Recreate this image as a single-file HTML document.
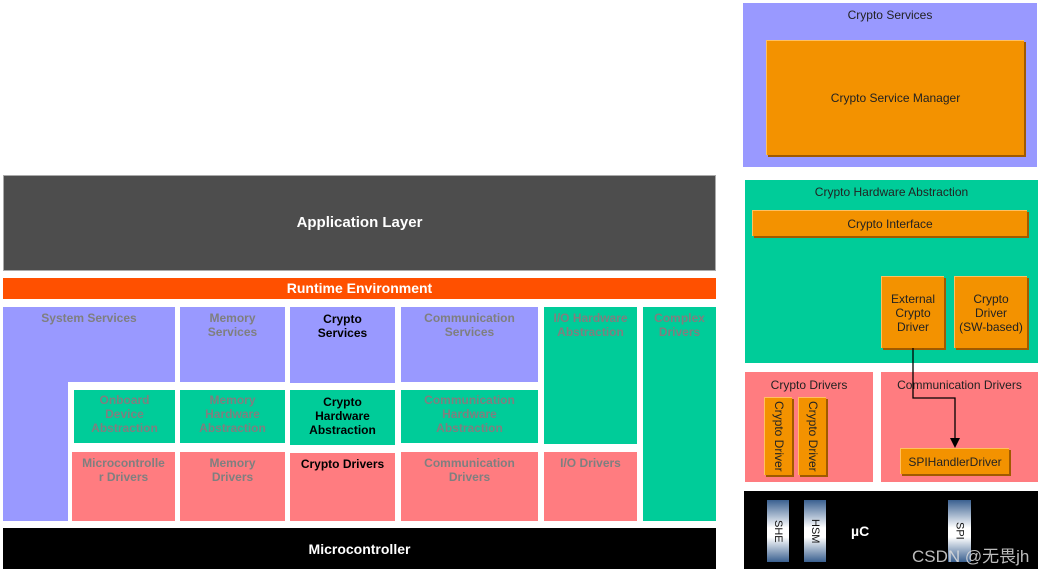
<!DOCTYPE html>
<html><head><meta charset="utf-8"><style>
body{margin:0;width:1042px;height:572px;background:#fff;position:relative;overflow:hidden;font-family:"Liberation Sans","Noto Sans CJK SC",sans-serif}
.b{position:absolute;box-sizing:border-box;text-align:center;font-weight:bold;font-size:12px;line-height:14px;color:#7f7f7f;padding-top:4px}
.p{background:#9999ff}.g{background:#00cc99}.r{background:#ff7c80}
.o{position:absolute;box-sizing:border-box;background:#f39200;border-top:1px solid #ffc060;border-left:1px solid #ffc060;box-shadow:2px 2px 0 #a05a00;font-size:12px;line-height:14px;color:#222;text-align:center;display:flex;align-items:center;justify-content:center}
.t{position:absolute;font-size:12px;color:#222;text-align:center}
.v{position:absolute;box-sizing:border-box;background:linear-gradient(#3a6090,#fff 45%,#fff 60%,#3a6090);color:#111;font-size:11px;display:flex;align-items:center;justify-content:center}
.v span{writing-mode:vertical-rl}
</style></head><body>
<div class="b" style="left:3px;top:175px;width:713px;height:96px;background:#4d4d4d;color:#fff;font-size:15px;padding-top:40px;border:1px solid #aaa">Application Layer</div>
<div class="b" style="left:3px;top:278px;width:713px;height:21px;background:#ff5000;color:#fff;font-size:14px;padding-top:3px">Runtime Environment</div>
<div class="b p" style="left:3px;top:307px;width:172px;height:75px">System Services</div>
<div class="p" style="position:absolute;left:3px;top:380px;width:65px;height:141px"></div>
<div class="b p" style="left:180px;top:307px;width:105px;height:75px">Memory<br>Services</div>
<div class="b p" style="left:290px;top:307px;width:105px;height:76px;color:#000;padding-top:5px">Crypto<br>Services</div>
<div class="b p" style="left:401px;top:307px;width:137px;height:75px">Communication<br>Services</div>
<div class="b g" style="left:544px;top:307px;width:93px;height:137px">I/O Hardware<br>Abstraction</div>
<div class="b g" style="left:643px;top:307px;width:73px;height:214px">Complex<br>Drivers</div>
<div class="b g" style="left:74px;top:390px;width:101px;height:53px;padding-top:3px">Onboard<br>Device<br>Abstraction</div>
<div class="b g" style="left:180px;top:390px;width:105px;height:53px;padding-top:3px">Memory<br>Hardware<br>Abstraction</div>
<div class="b g" style="left:290px;top:390px;width:105px;height:55px;color:#000;padding-top:5px">Crypto<br>Hardware<br>Abstraction</div>
<div class="b g" style="left:401px;top:390px;width:137px;height:53px;padding-top:3px">Communication<br>Hardware<br>Abstraction</div>
<div class="b r" style="left:72px;top:452px;width:103px;height:69px">Microcontrolle<br>r Drivers</div>
<div class="b r" style="left:180px;top:452px;width:105px;height:69px">Memory<br>Drivers</div>
<div class="b r" style="left:290px;top:453px;width:105px;height:68px;color:#000;padding-top:4px">Crypto Drivers</div>
<div class="b r" style="left:401px;top:452px;width:137px;height:69px">Communication<br>Drivers</div>
<div class="b r" style="left:544px;top:452px;width:93px;height:69px">I/O Drivers</div>
<div class="b" style="left:3px;top:528px;width:713px;height:41px;background:#000;color:#fff;font-size:14px;padding-top:14px">Microcontroller</div>

<div class="p" style="position:absolute;left:743px;top:3px;width:294px;height:164px"></div>
<div class="t" style="left:743px;top:8px;width:294px">Crypto Services</div>
<div class="o" style="left:766px;top:40px;width:258px;height:115px">Crypto Service Manager</div>

<div class="g" style="position:absolute;left:745px;top:180px;width:293px;height:183px"></div>
<div class="t" style="left:745px;top:185px;width:293px">Crypto Hardware Abstraction</div>
<div class="o" style="left:752px;top:210px;width:275px;height:26px">Crypto Interface</div>
<div class="o" style="left:881px;top:276px;width:63px;height:72px">External<br>Crypto<br>Driver</div>
<div class="o" style="left:954px;top:276px;width:73px;height:72px">Crypto<br>Driver<br>(SW-based)</div>

<div class="r" style="position:absolute;left:745px;top:372px;width:128px;height:110px"></div>
<div class="t" style="left:745px;top:378px;width:128px">Crypto Drivers</div>
<div class="r" style="position:absolute;left:881px;top:372px;width:157px;height:110px"></div>
<div class="t" style="left:881px;top:378px;width:157px">Communication Drivers</div>
<div class="o" style="left:764px;top:397px;width:28px;height:78px"><span style="writing-mode:vertical-rl;line-height:13px">Crypto Driver</span></div>
<div class="o" style="left:798px;top:397px;width:28px;height:78px"><span style="writing-mode:vertical-rl;line-height:13px">Crypto Driver</span></div>
<div class="o" style="left:900px;top:448px;width:109px;height:26px">SPIHandlerDriver</div>
<svg style="position:absolute;left:0;top:0" width="1042" height="572">
<polyline points="913,348 913,398 955,398 955,440" fill="none" stroke="#000" stroke-width="1.3"/>
<polygon points="950,438 960,438 955,448" fill="#000"/>
</svg>

<div style="position:absolute;left:744px;top:491px;width:294px;height:78px;background:#000"></div>
<div class="v" style="left:767px;top:500px;width:22px;height:62px"><span>SHE</span></div>
<div class="v" style="left:804px;top:500px;width:22px;height:62px"><span>HSM</span></div>
<div class="v" style="left:948px;top:500px;width:23px;height:62px"><span>SPI</span></div>
<div style="position:absolute;left:851px;top:523px;color:#fff;font-weight:bold;font-size:14px">µC</div>
<div style="position:absolute;left:912px;top:542px;color:#ddd;font-size:17px;opacity:.85">CSDN @无畏jh</div>
</body></html>
